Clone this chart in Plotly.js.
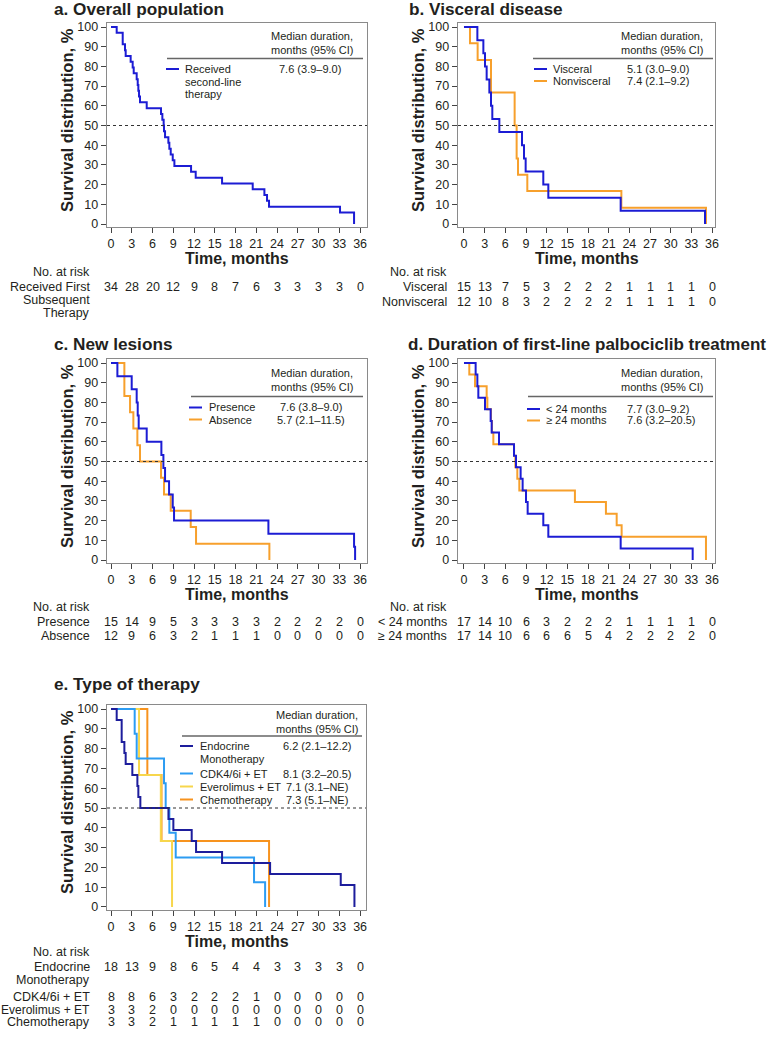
<!DOCTYPE html>
<html>
<head>
<meta charset="utf-8">
<script src="https://cdn.plot.ly/plotly-3.0.1.min.js"></script>
<style>
  html, body { margin: 0; padding: 0; background: #fff; }
  #chart { width: 774px; height: 1038px; }
</style>
</head>
<body>
<div id="chart"></div>
<script>
// ---- Kaplan-Meier data (event times in months, survival % after each event) ----
const tickMonths = [0, 3, 6, 9, 12, 15, 18, 21, 24, 27, 30, 33, 36];
const tickPct = [0, 10, 20, 30, 40, 50, 60, 70, 80, 90, 100];

// a. Overall population
const overallTime = [0.82, 1.69, 2.02, 2.12, 2.84, 3.13, 3.28, 3.71, 3.86, 3.95, 4.05, 4.19, 5.16, 7.23, 7.42, 7.61, 7.66, 7.81, 8.29, 8.43, 8.63, 8.92, 9.16, 11.57, 12.24, 16.05, 20.48, 22.17, 22.55, 22.84, 33.1, 35.13];
const overallSurv = [97.1, 91.2, 88.2, 85.3, 82.4, 79.4, 76.5, 73.5, 70.6, 67.6, 64.7, 61.8, 58.8, 55.9, 52.9, 50.0, 47.1, 44.1, 41.2, 38.2, 35.3, 32.4, 29.4, 26.5, 23.5, 20.6, 17.6, 14.7, 11.8, 8.8, 5.9, 0];
const overallRisk = [34, 28, 20, 12, 9, 8, 7, 6, 3, 3, 3, 3, 0];

// b. Visceral disease
const visceralTime = [1.94, 2.81, 3.05, 3.29, 3.68, 3.92, 4.11, 5.13, 8.42, 8.71, 8.95, 11.51, 12.24, 22.74, 34.98];
const visceralSurv = [93.3, 86.7, 80.0, 73.3, 66.7, 60.0, 53.3, 46.7, 40.0, 33.3, 26.7, 20.0, 13.3, 6.7, 0];
const nonviscTime = [0.87, 1.98, 3.92, 7.35, 7.64, 7.84, 9.19, 22.84, 35.12];
const nonviscSurv = [91.7, 83.3, 66.7, 50.0, 33.3, 25.0, 16.7, 8.3, 0];
const visceralRisk = [15, 13, 7, 5, 3, 2, 2, 2, 1, 1, 1, 1, 0];
const nonviscRisk = [12, 10, 8, 3, 2, 2, 2, 2, 1, 1, 1, 1, 0];

// c. New lesions
const presenceTime = [0.92, 2.99, 3.71, 3.86, 4.0, 5.16, 7.28, 7.57, 7.81, 8.39, 8.92, 9.11, 22.75, 35.13, 35.28];
const presenceSurv = [93.3, 86.7, 80.0, 73.3, 66.7, 60.0, 53.3, 46.7, 40.0, 33.3, 26.7, 20.0, 13.3, 6.7, 0];
const absenceTime = [1.93, 2.75, 3.23, 3.81, 4.19, 7.23, 7.66, 8.63, 11.52, 12.29, 22.89];
const absenceSurv = [83.3, 75.0, 66.7, 58.3, 50.0, 41.7, 33.3, 25.0, 16.7, 8.3, 0];
const presenceRisk = [15, 14, 9, 5, 3, 3, 3, 3, 2, 2, 2, 2, 0];
const absenceRisk = [12, 9, 6, 3, 2, 1, 1, 1, 0, 0, 0, 0, 0];

// d. Duration of first-line palbociclib treatment
const shortTime = [1.69, 1.94, 2.08, 3.05, 3.87, 4.02, 5.08, 7.26, 7.55, 8.22, 8.51, 9.0, 9.24, 11.51, 12.24, 22.74, 33.19];
const shortSurv = [94.1, 88.2, 82.4, 76.5, 70.6, 64.7, 58.8, 52.9, 47.1, 41.2, 35.3, 29.4, 23.5, 17.6, 11.8, 5.9, 0];
const longTime = [0.77, 1.6, 3.29, 3.39, 3.92, 4.06, 4.26, 7.26, 7.45, 7.74, 8.03, 16.1, 20.6, 22.16, 22.88, 35.12];
const longSurv = [94.1, 88.2, 82.4, 76.5, 70.6, 64.7, 58.8, 52.9, 47.1, 41.2, 35.3, 29.4, 23.5, 17.6, 11.8, 0];
const shortRisk = [17, 14, 10, 6, 3, 2, 2, 2, 1, 1, 1, 1, 0];
const longRisk = [17, 14, 10, 6, 6, 6, 5, 4, 2, 2, 2, 2, 0];

// e. Type of therapy
const endoTime = [0.82, 1.54, 1.93, 2.12, 3.08, 3.81, 3.95, 4.24, 8.3, 9.01, 11.66, 12.29, 16.05, 22.99, 33.2, 35.18];
const endoSurv = [94.4, 83.3, 77.8, 72.2, 66.7, 61.1, 55.6, 50.0, 44.4, 38.9, 33.3, 27.8, 22.2, 16.7, 11.1, 0];
const cdkTime = [3.42, 3.71, 7.66, 7.9, 8.43, 9.35, 20.67, 22.27];
const cdkSurv = [87.5, 75.0, 62.5, 50.0, 37.5, 25.0, 12.5, 0];
const everoTime = [4.05, 7.2, 8.82];
const everoSurv = [66.7, 33.3, 0];
const chemoTime = [5.25, 7.3, 22.84];
const chemoSurv = [66.7, 33.3, 0];
const endoRisk = [18, 13, 9, 8, 6, 5, 4, 4, 3, 3, 3, 3, 0];
const cdkRisk = [8, 8, 6, 3, 2, 2, 2, 1, 0, 0, 0, 0, 0];
const everoRisk = [3, 3, 2, 0, 0, 0, 0, 0, 0, 0, 0, 0, 0];
const chemoRisk = [3, 3, 2, 1, 1, 1, 1, 1, 0, 0, 0, 0, 0];

// ---- styling ----
const W = 774, H = 1038;
const FONT = 'Liberation Sans, Arial, Helvetica, sans-serif';
const TXT = '#231f20';
const BLUE = '#1c1cd4', ORANGE = '#f7a02c';
const NAVY = '#1d1d9c', SKY = '#2c9cf2', YELLOW = '#f7d64c', CHEMO = '#f7931e';

const fx = p => p / W;            // pixel -> paper x
const fy = p => 1 - p / H;        // pixel -> paper y

// panel frames (pixels) and axis ranges
const panels = [
  { id: '',  l: 107, r: 367, t: 23,  b: 227, xr: [-0.58, 37.0] },
  { id: '2', l: 458, r: 715, t: 23,  b: 227, xr: [-0.87, 36.43] },
  { id: '3', l: 107, r: 367, t: 359, b: 563, xr: [-0.58, 37.0] },
  { id: '4', l: 458, r: 715, t: 359, b: 563, xr: [-0.87, 36.43] },
  { id: '5', l: 107, r: 366, t: 705, b: 910, xr: [-0.58, 36.85] }
];

const layout = {
  width: W, height: H,
  margin: { l: 0, r: 0, t: 0, b: 0 },
  paper_bgcolor: '#fff', plot_bgcolor: '#fff',
  showlegend: false,
  font: { family: FONT, color: TXT },
  annotations: [], shapes: []
};

panels.forEach(p => {
  layout['xaxis' + p.id] = {
    domain: [fx(p.l), fx(p.r)], range: p.xr, anchor: 'y' + p.id,
    tickvals: tickMonths, ticks: 'outside', ticklen: 5, tickwidth: 1, tickcolor: '#444',
    showline: true, linecolor: '#8a8a8a', linewidth: 1.3, mirror: true,
    showgrid: false, zeroline: false,
    tickfont: { family: FONT, size: 12.5, color: TXT }, fixedrange: true
  };
  layout['yaxis' + p.id] = {
    domain: [fy(p.b), fy(p.t)], range: [-1.52, 102.03], anchor: 'x' + p.id,
    tickvals: tickPct, ticks: 'outside', ticklen: 5, tickwidth: 1, tickcolor: '#444',
    showline: true, linecolor: '#8a8a8a', linewidth: 1.3, mirror: true,
    showgrid: false, zeroline: false,
    tickfont: { family: FONT, size: 12.5, color: TXT }, fixedrange: true
  };
  // 50% reference line
  layout.shapes.push({
    type: 'line', xref: 'x' + p.id + ' domain', yref: 'y' + p.id,
    x0: 0, x1: 1, y0: 50, y1: 50,
    line: { color: '#333', width: 1, dash: '3px,3px' }
  });
});

const traces = [];
function km(times, surv, color, axisId) {
  traces.push({
    type: 'scatter', mode: 'lines',
    x: [0].concat(times), y: [100].concat(surv),
    line: { shape: 'hv', color: color, width: 2 },
    xaxis: 'x' + axisId, yaxis: 'y' + axisId,
    hoverinfo: 'skip', showlegend: false
  });
}

km(overallTime, overallSurv, BLUE, '');
km(nonviscTime, nonviscSurv, ORANGE, '2');
km(visceralTime, visceralSurv, BLUE, '2');
km(absenceTime, absenceSurv, ORANGE, '3');
km(presenceTime, presenceSurv, BLUE, '3');
km(longTime, longSurv, ORANGE, '4');
km(shortTime, shortSurv, BLUE, '4');
km(chemoTime, chemoSurv, CHEMO, '5');
km(everoTime, everoSurv, YELLOW, '5');
km(cdkTime, cdkSurv, SKY, '5');
km(endoTime, endoSurv, NAVY, '5');

// ---- text helpers ----
function text(t, x, y, opts) {
  opts = opts || {};
  layout.annotations.push({
    text: t, x: fx(x), y: fy(y), xref: 'paper', yref: 'paper',
    xanchor: opts.xa || 'center', yanchor: 'middle', showarrow: false,
    textangle: opts.angle || 0,
    font: { family: FONT, size: opts.size || 12.5, color: TXT }
  });
}
function seg(x0, x1, y, color, width) {
  layout.shapes.push({
    type: 'line', xref: 'paper', yref: 'paper',
    x0: fx(x0), x1: fx(x1), y0: fy(y), y1: fy(y),
    line: { color: color, width: width }
  });
}
function riskRow(values, axisId, y) {
  values.forEach((v, i) => {
    layout.annotations.push({
      text: String(v), x: tickMonths[i], xref: 'x' + axisId,
      y: fy(y), yref: 'paper', xanchor: 'center', yanchor: 'middle',
      showarrow: false, font: { family: FONT, size: 12.5, color: TXT }
    });
  });
}

// panel titles
const TITLE = 17.2;
text('<b>a. Overall population</b>', 52, 8.5, { xa: 'left', size: TITLE });
text('<b>b. Visceral disease</b>', 407, 8.5, { xa: 'left', size: TITLE });
text('<b>c. New lesions</b>', 52, 343.5, { xa: 'left', size: TITLE });
text('<b>d. Duration of first-line palbociclib treatment</b>', 406, 344, { xa: 'left', size: 17 });
text('<b>e. Type of therapy</b>', 52, 683.5, { xa: 'left', size: TITLE });

// axis titles
[[67, 120], [418, 120], [67, 456], [418, 456], [67, 802]].forEach(p =>
  text('<b>Survival distribution, %</b>', p[0], p[1], { angle: -90, size: 16.5 }));
[[237, 259], [587, 259], [237, 594], [587, 594], [237, 941]].forEach(p =>
  text('<b>Time, months</b>', p[0], p[1], { size: 16 }));

// legend blocks
const LEG = 11;
function legendHead(cx, yTop, x0, x1, yLine) {
  text('Median duration,', cx, yTop, { size: LEG });
  text('months (95% CI)', cx, yTop + 14, { size: LEG });
  seg(x0, x1, yLine, '#666', 1.5);
}
function legendItem(color, sx, tx, y, label, cx, value) {
  seg(sx, sx + 13, y, color, 2);
  text(label, tx, y, { xa: 'left', size: LEG });
  if (value) text(value, cx, y, { size: LEG });
}
legendHead(312, 36, 167, 363, 58.5);
legendItem(BLUE, 166, 183, 69, 'Received', 310, '7.6 (3.9–9.0)');
text('second-line', 183, 81.5, { xa: 'left', size: LEG });
text('therapy', 183, 94, { xa: 'left', size: LEG });

legendHead(662, 36, 533, 713, 58.5);
legendItem(BLUE, 534, 551, 69, 'Visceral', 658, '5.1 (3.0–9.0)');
legendItem(ORANGE, 534, 551, 81, 'Nonvisceral', 658, '7.4 (2.1–9.2)');

legendHead(312, 373, 191, 363, 396.5);
legendItem(BLUE, 189, 207, 407.5, 'Presence', 311, '7.6 (3.8–9.0)');
legendItem(ORANGE, 189, 207, 419.5, 'Absence', 311, '5.7 (2.1–11.5)');

legendHead(662, 373, 528, 713, 396.5);
legendItem(BLUE, 527, 544, 409, '< 24 months', 658, '7.7 (3.0–9.2)');
legendItem(ORANGE, 527, 544, 420.5, '≥ 24 months', 661, '7.6 (3.2–20.5)');

legendHead(317, 715, 182, 362, 736);
legendItem(NAVY, 180, 198, 746, 'Endocrine', 317, '6.2 (2.1–12.2)');
text('Monotherapy', 198, 759, { xa: 'left', size: LEG });
legendItem(SKY, 180, 198, 773.5, 'CDK4/6i + ET', 317, '8.1 (3.2–20.5)');
legendItem(YELLOW, 180, 198, 786.5, 'Everolimus + ET', 317, '7.1 (3.1–NE)');
legendItem(CHEMO, 180, 198, 799.5, 'Chemotherapy', 317, '7.3 (5.1–NE)');

// number-at-risk tables
text('No. at risk', 92, 271.5, { xa: 'right' });
text('Received First', 92, 287, { xa: 'right' });
text('Subsequent', 92, 300, { xa: 'right' });
text('Therapy', 92, 313, { xa: 'right' });
riskRow(overallRisk, '', 287);

text('No. at risk', 449, 271.5, { xa: 'right' });
text('Visceral', 449, 287, { xa: 'right' });
text('Nonvisceral', 449, 302, { xa: 'right' });
riskRow(visceralRisk, '2', 287);
riskRow(nonviscRisk, '2', 302);

text('No. at risk', 92, 607, { xa: 'right' });
text('Presence', 92, 622, { xa: 'right' });
text('Absence', 92, 636, { xa: 'right' });
riskRow(presenceRisk, '3', 622);
riskRow(absenceRisk, '3', 636);

text('No. at risk', 449, 607, { xa: 'right' });
text('< 24 months', 449, 622, { xa: 'right' });
text('≥ 24 months', 449, 636, { xa: 'right' });
riskRow(shortRisk, '4', 622);
riskRow(longRisk, '4', 636);

text('No. at risk', 92, 952, { xa: 'right' });
text('Endocrine', 92, 967, { xa: 'right' });
text('Monotherapy', 92, 980, { xa: 'right' });
text('CDK4/6i + ET', 92, 997, { xa: 'right' });
text('Everolimus + ET', 92, 1009.5, { xa: 'right', size: 12 });
text('Chemotherapy', 92, 1022, { xa: 'right' });
riskRow(endoRisk, '5', 967);
riskRow(cdkRisk, '5', 997);
riskRow(everoRisk, '5', 1009.5);
riskRow(chemoRisk, '5', 1022);

Plotly.newPlot('chart', traces, layout, { displayModeBar: false, staticPlot: true });
</script>
</body>
</html>
